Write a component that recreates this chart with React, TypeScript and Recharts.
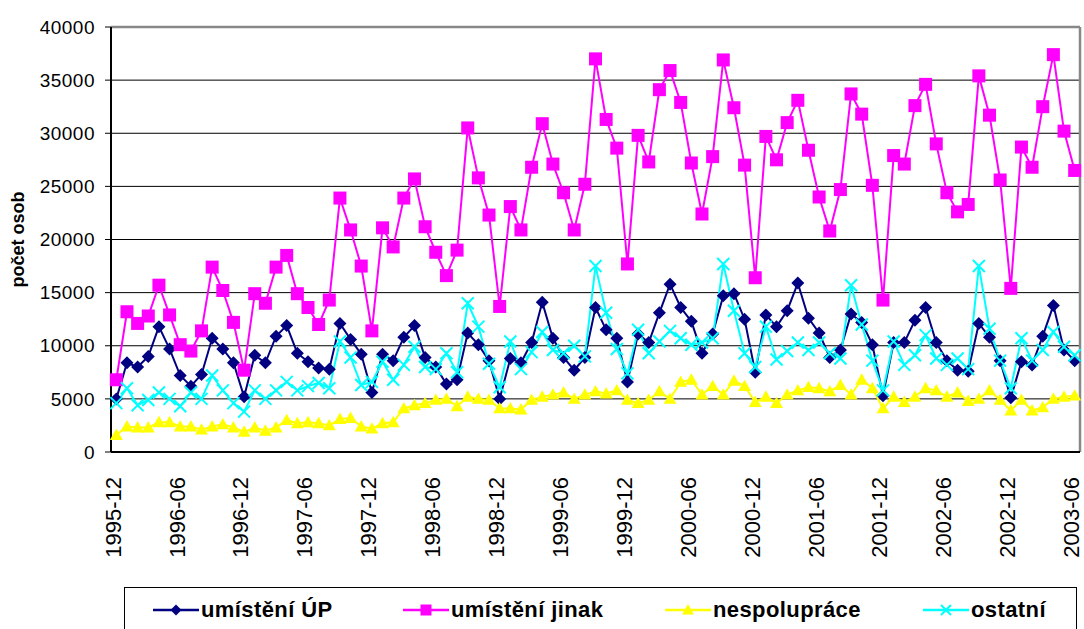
import React from 'react';
import { LineChart, Line, XAxis, YAxis, CartesianGrid, ReferenceLine, Label } from 'recharts';

// monthly categories 1995-12 .. 2003-06
const MONTHS = [
  '1995-12',
  '1996-01', '1996-02', '1996-03', '1996-04', '1996-05', '1996-06', '1996-07', '1996-08', '1996-09', '1996-10', '1996-11', '1996-12',
  '1997-01', '1997-02', '1997-03', '1997-04', '1997-05', '1997-06', '1997-07', '1997-08', '1997-09', '1997-10', '1997-11', '1997-12',
  '1998-01', '1998-02', '1998-03', '1998-04', '1998-05', '1998-06', '1998-07', '1998-08', '1998-09', '1998-10', '1998-11', '1998-12',
  '1999-01', '1999-02', '1999-03', '1999-04', '1999-05', '1999-06', '1999-07', '1999-08', '1999-09', '1999-10', '1999-11', '1999-12',
  '2000-01', '2000-02', '2000-03', '2000-04', '2000-05', '2000-06', '2000-07', '2000-08', '2000-09', '2000-10', '2000-11', '2000-12',
  '2001-01', '2001-02', '2001-03', '2001-04', '2001-05', '2001-06', '2001-07', '2001-08', '2001-09', '2001-10', '2001-11', '2001-12',
  '2002-01', '2002-02', '2002-03', '2002-04', '2002-05', '2002-06', '2002-07', '2002-08', '2002-09', '2002-10', '2002-11', '2002-12',
  '2003-01', '2003-02', '2003-03', '2003-04', '2003-05', '2003-06',
];

const UMISTENI_UP = [
  5000,
  8400, 8000, 9000, 11800, 9700, 7200, 6200, 7300, 10700, 9700, 8400, 5200,
  9100, 8400, 10900, 11900, 9300, 8500, 7900, 7800, 12100, 10600, 9200, 5600,
  9200, 8600, 10800, 11900, 8900, 8000, 6400, 6800, 11200, 10100, 8600, 5000,
  8800, 8400, 10300, 14100, 10700, 8900, 7700, 8900, 13600, 11500, 10700, 6600,
  11100, 10300, 13100, 15800, 13600, 12300, 9300, 11100, 14700, 14900, 12500, 7500,
  12900, 11800, 13300, 15900, 12600, 11200, 8900, 9600, 13000, 12200, 10100, 5300,
  10300, 10300, 12400, 13600, 10300, 8600, 7700, 7600, 12100, 10800, 8600, 5100,
  8500, 8200, 10900, 13800, 9600, 8600,
];

const UMISTENI_JINAK = [
  6800,
  13200, 12100, 12800, 15700, 12900, 10100, 9500, 11400, 17400, 15200, 12200, 7700,
  14900, 14000, 17400, 18500, 14900, 13600, 12000, 14300, 23900, 20900, 17500, 11400,
  21100, 19300, 23900, 25700, 21200, 18800, 16600, 19000, 30500, 25800, 22300, 13700,
  23100, 20900, 26800, 30900, 27100, 24400, 20900, 25200, 37000, 31300, 28600, 17700,
  29800, 27300, 34100, 35900, 32900, 27200, 22400, 27800, 36900, 32400, 27000, 16400,
  29700, 27500, 31000, 33100, 28400, 24000, 20800, 24700, 33700, 31800, 25100, 14300,
  27900, 27100, 32600, 34600, 29000, 24400, 22600, 23300, 35400, 31700, 25600, 15400,
  28700, 26800, 32500, 37400, 30200, 26500,
];

const NESPOLUPRACE = [
  1600,
  2400, 2300, 2300, 2800, 2800, 2400, 2400, 2100, 2400, 2600, 2300, 1900,
  2300, 2000, 2300, 3000, 2700, 2800, 2700, 2500, 3100, 3200, 2400, 2200,
  2700, 2800, 4100, 4400, 4600, 4900, 5000, 4300, 5200, 5000, 4900, 4100,
  4100, 4000, 4900, 5200, 5400, 5600, 5000, 5400, 5700, 5500, 5800, 4900,
  4600, 4900, 5700, 5000, 6600, 6800, 5400, 6200, 5400, 6700, 6200, 4700,
  5200, 4600, 5400, 5800, 6100, 6000, 5700, 6300, 5400, 6800, 6000, 4100,
  5200, 4700, 5200, 6000, 5800, 5200, 5600, 4800, 5000, 5800, 4900, 3900,
  4900, 3900, 4200, 5000, 5200, 5300,
];

const OSTATNI = [
  4600,
  6000, 4400, 4900, 5600, 5000, 4300, 5600, 5000, 7200, 5800, 4600, 3800,
  5800, 5000, 5800, 6600, 5800, 6200, 6500, 6000, 10400, 8900, 6300, 6600,
  8500, 6800, 8200, 9900, 8000, 7800, 9300, 7500, 14000, 11800, 8300, 6100,
  10400, 7800, 9400, 11300, 9600, 9300, 10000, 9000, 17500, 13100, 9700, 7400,
  11500, 9300, 10400, 11400, 10700, 10100, 10300, 10700, 17700, 13300, 9300, 8000,
  11800, 8700, 9500, 10300, 9600, 10300, 9300, 8800, 15700, 12000, 8600, 5800,
  10400, 8200, 9100, 11000, 8800, 8200, 8800, 7800, 17500, 11600, 8600, 6000,
  10700, 8600, 9600, 11300, 9900, 9100,
];

const Y_TICKS = [0, 5000, 10000, 15000, 20000, 25000, 30000, 35000, 40000];
const LABEL_MONTHS = [
  '1995-12', '1996-06', '1996-12', '1997-06', '1997-12', '1998-06', '1998-12', '1999-06',
  '1999-12', '2000-06', '2000-12', '2001-06', '2001-12', '2002-06', '2002-12', '2003-06',
];

const FONT = '"Liberation Sans", Arial, sans-serif';
const NAVY = '#000080';
const MAGENTA = '#FF00FF';
const YELLOW = '#FFFF00';
const CYAN = '#00FFFF';

const data = MONTHS.map((m, i) => ({
  idx: i,
  month: m,
  up: UMISTENI_UP[i],
  jinak: UMISTENI_JINAK[i],
  nesp: NESPOLUPRACE[i],
  ost: OSTATNI[i],
}));

const labelIdx = LABEL_MONTHS.map((m) => MONTHS.indexOf(m));
// tick marks sit between the categories
const boundaries = [...MONTHS.map((_, i) => i - 0.5), MONTHS.length - 0.5];

// marker shapes; colours are fixed here, recharts passes its own fill otherwise
const Diamond = (p: any) => {
  const { cx, cy, index, s = 6.5 } = p;
  if (cx == null || cy == null) return <g key={index} />;
  return <path key={index} d={`M${cx},${cy - s}L${cx + s},${cy}L${cx},${cy + s}L${cx - s},${cy}Z`} fill={NAVY} />;
};

const Square = (p: any) => {
  const { cx, cy, index, s = 6.5 } = p;
  if (cx == null || cy == null) return <g key={index} />;
  return <rect key={index} x={cx - s} y={cy - s} width={s * 2} height={s * 2} fill={MAGENTA} />;
};

const Triangle = (p: any) => {
  const { cx, cy, index, s = 6.5 } = p;
  if (cx == null || cy == null) return <g key={index} />;
  return <path key={index} d={`M${cx},${cy - s}L${cx + s},${cy + s * 0.75}L${cx - s},${cy + s * 0.75}Z`} fill={YELLOW} />;
};

const Cross = (p: any) => {
  const { cx, cy, index, s = 6 } = p;
  if (cx == null || cy == null) return <g key={index} />;
  return (
    <path key={index} d={`M${cx - s},${cy - s}L${cx + s},${cy + s}M${cx - s},${cy + s}L${cx + s},${cy - s}`}
      stroke={CYAN} strokeWidth={2} fill="none" />
  );
};

const MonthTick = (props: any) => {
  const { x, y, payload } = props;
  return (
    <text x={x} y={y} transform={`rotate(-90, ${x}, ${y})`} textAnchor="end" dy="0.2em"
      fontSize={22} fill="#000" fontFamily={FONT}>
      {MONTHS[payload.value]}
    </text>
  );
};

const YTitle = (props: any) => {
  const { viewBox } = props;
  const cy = viewBox.y + viewBox.height / 2;
  return (
    <text x={18} y={cy} transform={`rotate(-90, 18, ${cy})`} textAnchor="middle" dy="0.36em"
      fontSize={18} fontWeight="bold" fill="#000" fontFamily={FONT}>
      počet osob
    </text>
  );
};

const LEGEND = [
  { name: 'umístění ÚP', left: 28, marker: 'diamond', color: NAVY },
  { name: 'umístění jinak', left: 278, marker: 'square', color: MAGENTA },
  { name: 'nespolupráce', left: 540, marker: 'triangle', color: YELLOW },
  { name: 'ostatní', left: 798, marker: 'cross', color: CYAN },
];

const LegendMarker = ({ marker, color }: { marker: string; color: string }) => {
  const cx = 23;
  const cy = 12;
  let shape: React.ReactNode = null;
  if (marker === 'diamond') shape = <Diamond cx={cx} cy={cy} s={5.5} />;
  if (marker === 'square') shape = <Square cx={cx} cy={cy} s={5.5} />;
  if (marker === 'triangle') shape = <Triangle cx={cx} cy={cy} s={6} />;
  if (marker === 'cross') shape = <Cross cx={cx} cy={cy} s={5} />;
  return (
    <svg width={46} height={24} style={{ display: 'block' }}>
      <line x1={0} y1={cy} x2={46} y2={cy} stroke={color} strokeWidth={2.5} />
      {shape}
    </svg>
  );
};

export default function App() {
  return (
    <div style={{ position: 'absolute', left: 0, top: 0, width: 1084, height: 629, background: '#fff', overflow: 'hidden' }}>
      <LineChart width={1084} height={629} data={data} margin={{ top: 27, right: 4, left: 0, bottom: 170 }}>
        <CartesianGrid xAxisId="a_ticks" yAxisId="left" vertical={false} stroke="#000" strokeWidth={1} />
        <XAxis
          xAxisId="a_ticks"
          type="number"
          dataKey="idx"
          domain={[-0.5, MONTHS.length - 0.5]}
          ticks={boundaries}
          interval={0}
          height={6}
          tick={false}
          tickSize={5}
          axisLine={{ stroke: '#000', strokeWidth: 2 }}
          tickLine={{ stroke: '#000' }}
        />
        {/* thin axis that only carries the rotated month labels */}
        <XAxis
          xAxisId="b_labels"
          type="number"
          dataKey="idx"
          domain={[-0.5, MONTHS.length - 0.5]}
          ticks={labelIdx}
          interval={0}
          height={1}
          axisLine={false}
          tickLine={false}
          tickSize={0}
          tickMargin={19}
          tick={<MonthTick />}
        />
        <YAxis
          yAxisId="left"
          domain={[0, 40000]}
          ticks={Y_TICKS}
          interval={0}
          width={111}
          tickSize={6}
          tickMargin={10}
          axisLine={{ stroke: '#000', strokeWidth: 2 }}
          tickLine={{ stroke: '#000' }}
          tick={{ fontSize: 19, fill: '#000', fontFamily: FONT, letterSpacing: 0.5 }}
        >
          <Label content={<YTitle />} />
        </YAxis>
        <ReferenceLine xAxisId="a_ticks" yAxisId="left" y={40000} stroke="#888" strokeWidth={2.5} />
        <ReferenceLine xAxisId="a_ticks" yAxisId="left" x={MONTHS.length - 0.5} stroke="#888" strokeWidth={2.5} />
        <Line xAxisId="a_ticks" yAxisId="left" dataKey="up" stroke={NAVY} strokeWidth={2} dot={<Diamond />} activeDot={false} isAnimationActive={false} />
        <Line xAxisId="a_ticks" yAxisId="left" dataKey="jinak" stroke={MAGENTA} strokeWidth={2} dot={<Square />} activeDot={false} isAnimationActive={false} />
        <Line xAxisId="a_ticks" yAxisId="left" dataKey="nesp" stroke={YELLOW} strokeWidth={2} dot={<Triangle />} activeDot={false} isAnimationActive={false} />
        <Line xAxisId="a_ticks" yAxisId="left" dataKey="ost" stroke={CYAN} strokeWidth={2} dot={<Cross />} activeDot={false} isAnimationActive={false} />
      </LineChart>
      <div style={{ position: 'absolute', left: 124, top: 587, width: 953, height: 60, border: '1px solid #000', boxSizing: 'border-box' }}>
        {LEGEND.map((item) => (
          <div key={item.name} style={{ position: 'absolute', left: item.left, top: 10, display: 'flex', alignItems: 'center' }}>
            <LegendMarker marker={item.marker} color={item.color} />
            <span style={{ fontFamily: FONT, fontWeight: 'bold', fontSize: 22, letterSpacing: 0.4, marginLeft: 2, lineHeight: '24px', color: '#000' }}>
              {item.name}
            </span>
          </div>
        ))}
      </div>
    </div>
  );
}
